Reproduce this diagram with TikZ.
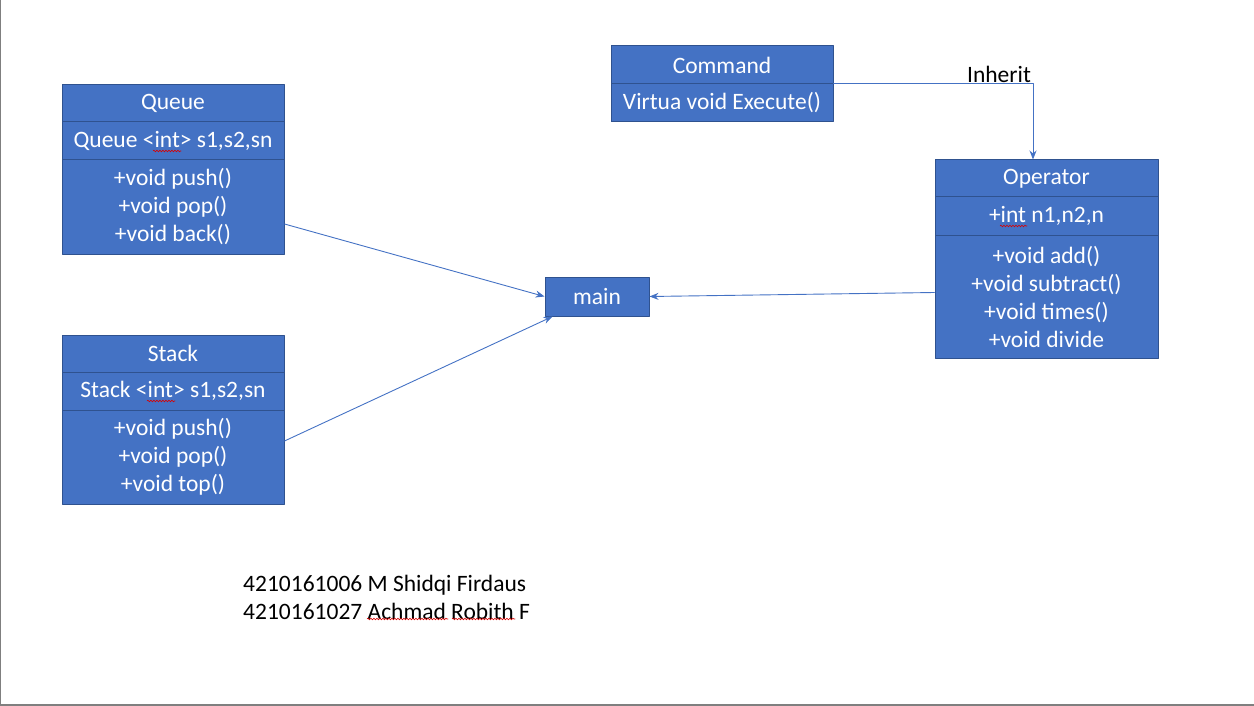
\documentclass[tikz,border=0pt]{standalone}
\usepackage{fontspec}
\setmainfont{Carlito}
\usetikzlibrary{arrows.meta, decorations.pathmorphing}

\definecolor{clsfill}{HTML}{4472C4}
\definecolor{clsborder}{HTML}{2F528F}
\definecolor{linkblue}{HTML}{4472C4}
\definecolor{slideedge}{HTML}{7F7F7F}

\tikzset{
    cls/.style={draw=clsborder, fill=clsfill, text=white, line width=1pt, inner sep=0pt, minimum width=222pt, align=center},
    link/.style={draw=linkblue, line width=0.9pt, -{Stealth[length=9pt,width=7pt]}},
    squiggle/.style={draw=red!85!black, line width=0.6pt, decorate, decoration={snake, amplitude=0.8pt, segment length=3pt}}
}

\begin{document}
\begin{tikzpicture}[line cap=round,line join=round,x=1pt,y=-1pt,font=\fontsize{23.5}{28}\selectfont]
    \useasboundingbox (0,0) rectangle (1254,706);
    \draw[slideedge, line width=2pt] (0,0) -- (0,704.5) -- (1254,704.5);

    % Queue
    \draw (173,103.5) node[cls, minimum height=37pt] (qh) {Queue};
    \draw (173,141) node[cls, minimum height=38pt] (qa) {Queue <int> s1,s2,sn};
    \draw (173,207) node[cls, minimum height=94pt] (qm) {+void push()\\+void pop()\\+void back()};

    % Stack
    \draw (173,353.5) node[cls, minimum height=37pt] (sh) {Stack};
    \draw (173,391) node[cls, minimum height=38pt] (sa) {Stack <int> s1,s2,sn};
    \draw (173,457) node[cls, minimum height=94pt] (sm) {+void push()\\+void pop()\\+void top()};

    % Command
    \draw (722,65) node[cls, minimum height=38pt] (ch) {Command};
    \draw (722,103) node[cls, minimum height=38pt] (ca) {Virtua void Execute()};

    % Operator
    \draw (1046.5,178.5) node[cls, minimum width=223pt, minimum height=37pt] (oh) {Operator};
    \draw (1046.5,216) node[cls, minimum width=223pt, minimum height=38pt] (oa) {+int n1,n2,n};
    \draw (1046.5,296.5) node[cls, minimum width=223pt, minimum height=123pt] (om) {+void add()\\+void subtract()\\+void times()\\+void divide};

    % main
    \draw (597,296.5) node[cls, minimum width=104pt, minimum height=39pt] (mn) {main};

    % Edges
    \draw[link] ([yshift=-17pt]qm.east) -- (mn.west);
    \draw[link] ([yshift=16pt]sm.east) -- ([xshift=8pt]mn.south west);
    \draw[link] ([yshift=4pt]om.west) -- (mn.east);
    \draw[link] (ca.north east) -| ([xshift=-13.5pt]oh.north);
    \draw (999,74) node (inh) {Inherit};

    % Names
    \draw (243,597) node[anchor=west, align=left, inner sep=0pt] (names) {4210161006 M Shidqi Firdaus\\4210161027 Achmad Robith F};

    % Spelling marks
    \draw[squiggle] (153,151) -- (181,151);
    \draw[squiggle] (147,401) -- (175,401);
    \draw[squiggle] (1000,226) -- (1027,226);
    \draw[squiggle] (367,619) -- (448,619);
    \draw[squiggle] (452,619) -- (515,619);
\end{tikzpicture}
\end{document}
